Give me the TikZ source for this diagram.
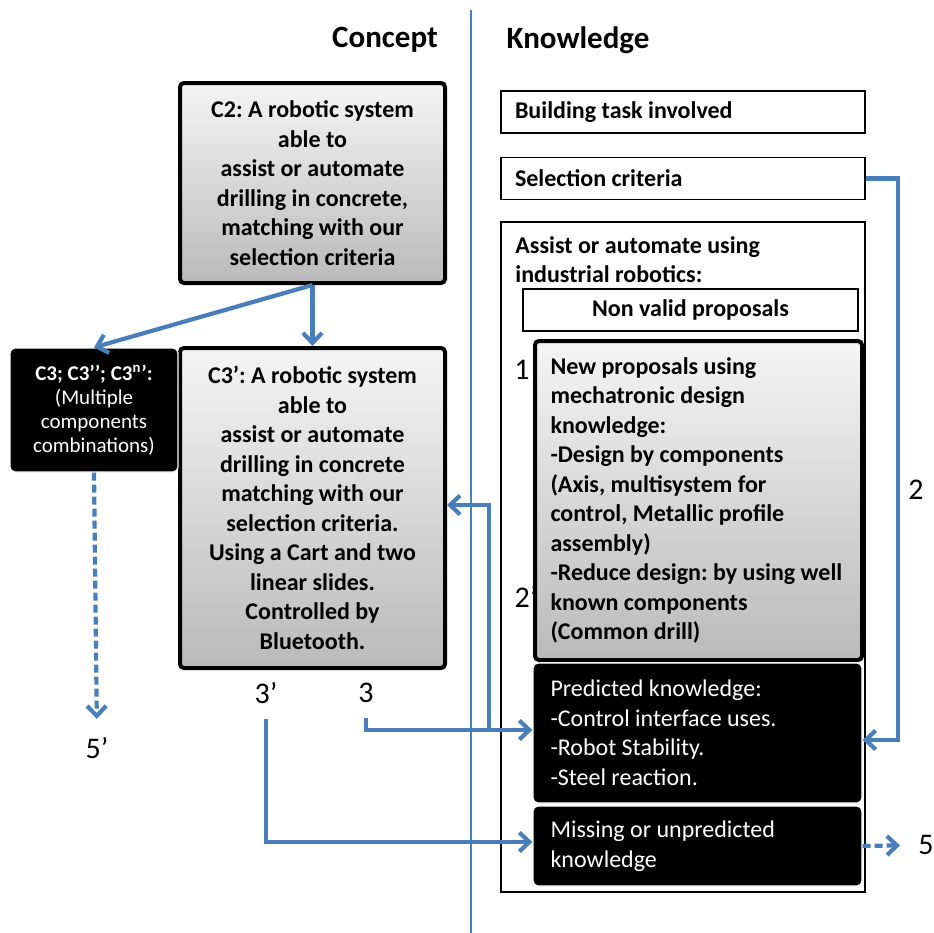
\documentclass[tikz,border=0pt]{standalone}
\usepackage{fontspec}
\setmainfont{Carlito}
\usetikzlibrary{arrows.meta,calc}
\definecolor{flowblue}{HTML}{4A7EBB}
\newcommand\naturalspaces{\spaceskip=0pt\relax\xspaceskip=0pt\relax}
\frenchspacing

\begin{document}
\begin{tikzpicture}[x=0.5pt, y=-0.5pt, every node/.style={inner sep=0pt},
  body/.style={font=\fontsize{12}{14.75}\selectfont\bfseries},
  leftbox/.style={align=left, execute at begin node=\naturalspaces},
  greybox/.style={body, draw=black, line width=2pt, rounded corners=2pt, top color=black!4, bottom color=black!27},
  darkbox/.style={fill=black, draw=white, line width=0.6pt, rounded corners=2.5pt, text=white},
  plainbox/.style={body, draw=black, line width=0.6pt},
  flow/.style={draw=flowblue, line width=2.1pt, -{Straight Barb[length=5pt,width=9.5pt]}},
  num/.style={font=\fontsize{15}{18}\selectfont}]
  \useasboundingbox (0,0) rectangle (934,933);
  \draw[flowblue, line width=1pt] (471,10) -- (471,933);
  \node[font=\fontsize{15.5}{18}\selectfont\bfseries] (hconcept) at (385,40) {Concept};
  \node[font=\fontsize{15.5}{18}\selectfont\bfseries] (hknow) at (578,40) {Knowledge};
  \node[greybox, minimum width=132.5pt, minimum height=100pt, align=center] (c2) at (312.5,183)
    {C2: A robotic system\\able to\\assist or automate\\drilling in concrete,\\matching with our\\selection criteria};
  \node[greybox, minimum width=132.5pt, minimum height=160pt, align=center] (c3p) at (312.5,508)
    {C3’: A robotic system\\able to\\assist or automate\\drilling in concrete\\matching with our\\selection criteria.\\Using a Cart and two\\linear slides.\\Controlled by\\Bluetooth.};
  \node[darkbox, minimum width=84pt, minimum height=62pt, align=center, font=\fontsize{10.5}{12}\selectfont] (c3) at (94,410)
    {\textbf{C3; C3’’; C3\textsuperscript{n}’:}\\(Multiple\\components\\combinations)};
  \node[plainbox, leftbox, minimum width=182pt, minimum height=21pt, text width=168pt] (task) at (683,112) {Building task involved};
  \node[plainbox, leftbox, minimum width=182pt, minimum height=21pt, text width=168pt] (sel) at (683,178.5) {Selection criteria};
  \node[draw=black, line width=0.6pt, minimum width=182pt, minimum height=335pt] (outer) at (683,557) {};
  \node[body, anchor=north west, align=left] (assist) at (515,236) {Assist or automate using\\industrial robotics:};
  \node[plainbox, minimum width=167.5pt, minimum height=21pt, align=center] (nonvalid) at (690.5,310) {Non valid proposals};
  \node[num] (one) at (522,370) {1};
  \node[num] (twop) at (526,597) {2’};
  \node[greybox, leftbox, minimum width=163.5pt, minimum height=159.5pt, text width=148pt] (prop) at (698.5,500.5)
    {New proposals using\\mechatronic design\\knowledge:\\-Design by components\\(Axis, multisystem for\\control, Metallic profile\\assembly)\\-Reduce design: by using well\\known components\\(Common drill)};
  \node[darkbox, leftbox, minimum width=164.5pt, minimum height=70pt, text width=147pt, font=\fontsize{12}{14.75}\selectfont] (pred) at (697.5,733)
    {Predicted knowledge:\\-Control interface uses.\\-Robot Stability.\\-Steel reaction.};
  \node[darkbox, leftbox, minimum width=164.5pt, minimum height=40pt, text width=147pt, font=\fontsize{12}{14.75}\selectfont] (miss) at (697.5,846)
    {Missing or unpredicted\\knowledge};
  \node[num] (two) at (916,490) {2};
  \node[num] (threep) at (266,693) {3’};
  \node[num] (three) at (366,693) {3};
  \node[num] (fivep) at (97,748) {5’};
  \node[num] (five) at (926,845) {5};
  \coordinate (split) at (489,730);
  \draw[flow] (c2.south) -- (c3.north);
  \draw[flow] (c2.south) -- (c3p.north);
  \draw[flow, dash pattern=on 4pt off 2pt] (c3.south) -- (fivep.north) [shorten >=9pt];
  \draw[flow] (sel.east) -- ++(32,0) |- ([yshift=-3.5pt]pred.east);
  \draw[flow, shorten <=7.5pt] (three.south) |- ([yshift=1.5pt]pred.west);
  \draw[flow] (split) |- ([yshift=1.5pt]c3p.east);
  \draw[flow, shorten <=7.5pt] (threep.south) |- ([yshift=2pt]miss.west);
  \draw[flow, dash pattern=on 4pt off 2pt, shorten >=9pt] (miss.east) -- (five.west);
\end{tikzpicture}
\end{document}
